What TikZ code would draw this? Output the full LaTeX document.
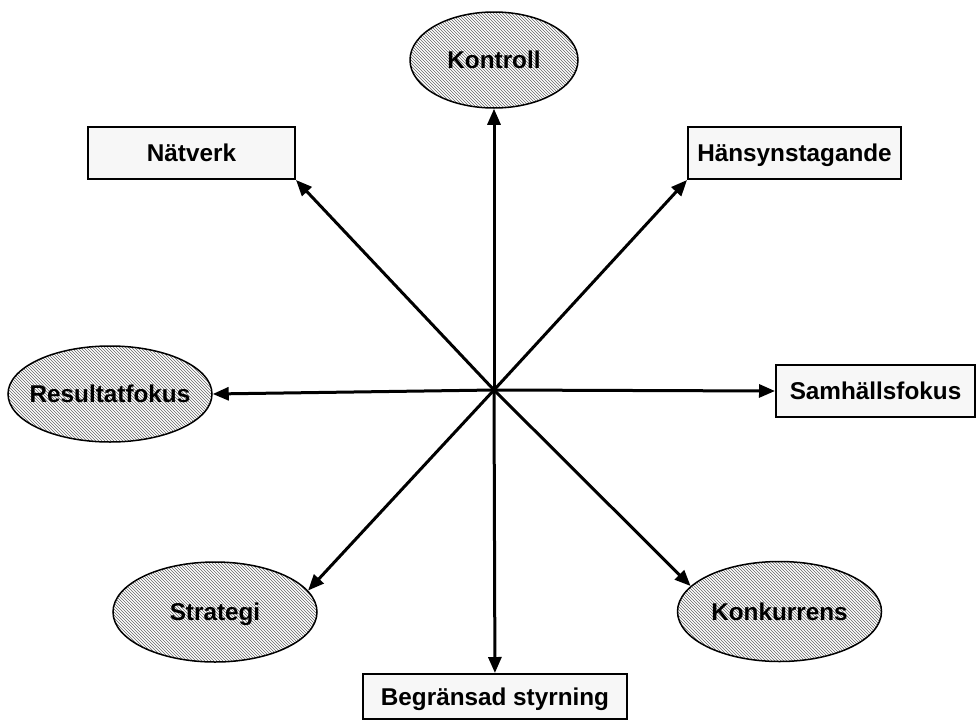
\documentclass[tikz,border=0pt]{standalone}
\usepackage{fontspec}
\setmainfont{Liberation Sans}
\usetikzlibrary{shapes,arrows.meta,patterns}
\tikzstyle{oval} = [ellipse, draw, line width=1.5pt, preaction={fill=white},
    pattern=north west lines, pattern color=black!60, inner xsep=-40pt,
    minimum width=204pt, minimum height=100pt, text height=17.5pt, text depth=0pt,
    font=\bfseries\fontsize{24.3}{29}\selectfont]
\tikzstyle{block} = [rectangle, draw, line width=2pt, fill=gray!6,
    minimum height=52pt, text height=17.5pt, text depth=0pt,
    font=\bfseries\fontsize{24.3}{29}\selectfont]
\tikzstyle{line} = [draw, line width=3pt, -{Triangle[length=16pt,width=13pt]}]

\begin{document}
\begin{tikzpicture}[x=1pt, y=-1pt]
    \useasboundingbox (0,0) rectangle (976,720);

    % Place nodes
    \coordinate (c) at (494,390);
    \node [oval, minimum width=168pt, minimum height=96pt] (kontroll) at (494,60) {Kontroll};
    \node [block, minimum width=207pt] (natverk) at (191.5,153) {Nätverk};
    \node [block, minimum width=213pt] (hansyn) at (794.5,153) {Hänsynstagande};
    \node [oval, minimum height=96pt] (resultat) at (110,394) {Resultatfokus};
    \node [block, minimum width=199pt] (samhalle) at (875.5,391) {Samhällsfokus};
    \node [oval] (strategi) at (215,612) {Strategi};
    \node [oval] (konkurrens) at (779.5,611.5) {Konkurrens};
    \node [block, minimum width=264pt, minimum height=45pt] (styrning) at (495,696.5) {Begränsad styrning};

    % Draw edges
    \path [line] (c) -- (kontroll);
    \path [line] (c) -- (natverk.south east);
    \path [line] (c) -- (hansyn.south west);
    \path [line] (c) -- (resultat.east);
    \path [line] (c) -- (samhalle.west);
    \path [line] (c) -- (strategi.13);
    \path [line] (c) -- (konkurrens.164);
    \path [line] (c) -- (styrning);

\end{tikzpicture}
\end{document}
